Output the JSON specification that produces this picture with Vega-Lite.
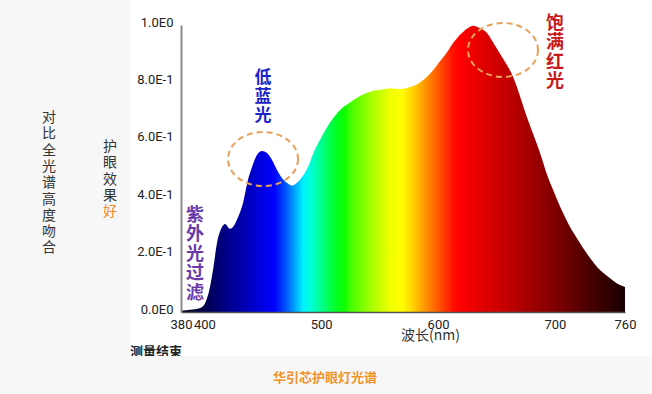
{
  "$schema": "https://vega.github.io/schema/vega-lite/v6.json",
  "width": 444,
  "height": 287,
  "autosize": {"type": "none"},
  "padding": {"left": 181, "top": 25, "right": 27, "bottom": 82},
  "background": "#f7f7f7",
  "config": {"view": {"stroke": null}, "font": "Noto Sans CJK SC"},
  "datasets": {
    "spectrum": [
      {"nm": 380, "v": 0.004}, {"nm": 384, "v": 0.006}, {"nm": 388, "v": 0.008}, {"nm": 392, "v": 0.01},
      {"nm": 396.3, "v": 0.014}, {"nm": 400.5, "v": 0.03}, {"nm": 404.8, "v": 0.087}, {"nm": 407.4, "v": 0.146},
      {"nm": 410.8, "v": 0.24}, {"nm": 415.1, "v": 0.296}, {"nm": 417.7, "v": 0.307}, {"nm": 421.9, "v": 0.29},
      {"nm": 424.5, "v": 0.296}, {"nm": 428.8, "v": 0.33}, {"nm": 433.1, "v": 0.38}, {"nm": 437.3, "v": 0.46},
      {"nm": 440.8, "v": 0.505}, {"nm": 445.0, "v": 0.547}, {"nm": 449.3, "v": 0.561}, {"nm": 453.6, "v": 0.554},
      {"nm": 457.9, "v": 0.53}, {"nm": 462.2, "v": 0.495}, {"nm": 466.4, "v": 0.467}, {"nm": 470.7, "v": 0.45},
      {"nm": 475.0, "v": 0.44}, {"nm": 479.3, "v": 0.45}, {"nm": 483.6, "v": 0.47}, {"nm": 488.7, "v": 0.505},
      {"nm": 494, "v": 0.56}, {"nm": 499.0, "v": 0.6}, {"nm": 507.5, "v": 0.66}, {"nm": 516.1, "v": 0.704},
      {"nm": 524.6, "v": 0.73}, {"nm": 533.2, "v": 0.753}, {"nm": 541.8, "v": 0.767}, {"nm": 550.3, "v": 0.774},
      {"nm": 558.9, "v": 0.78}, {"nm": 567.4, "v": 0.777}, {"nm": 576.0, "v": 0.784}, {"nm": 584.6, "v": 0.8},
      {"nm": 593.1, "v": 0.83}, {"nm": 599.1, "v": 0.86}, {"nm": 602.5, "v": 0.878}, {"nm": 607.7, "v": 0.905},
      {"nm": 612.8, "v": 0.937}, {"nm": 621.4, "v": 0.976}, {"nm": 626, "v": 0.99}, {"nm": 630, "v": 0.997},
      {"nm": 635, "v": 0.99}, {"nm": 641.9, "v": 0.972}, {"nm": 647, "v": 0.94}, {"nm": 653, "v": 0.9},
      {"nm": 664.2, "v": 0.819}, {"nm": 676.1, "v": 0.679}, {"nm": 687.3, "v": 0.554}, {"nm": 694, "v": 0.47},
      {"nm": 698, "v": 0.43}, {"nm": 702, "v": 0.39}, {"nm": 707.0, "v": 0.345}, {"nm": 713.0, "v": 0.296},
      {"nm": 718.7, "v": 0.258}, {"nm": 724.1, "v": 0.223}, {"nm": 730.1, "v": 0.188}, {"nm": 738.6, "v": 0.146},
      {"nm": 747.2, "v": 0.118}, {"nm": 755.7, "v": 0.094}, {"nm": 760, "v": 0.087}
    ],
    "panel": [{"x1": 336.3, "x2": 820, "y1": -0.1533, "y2": 1.3}],
    "strip": [{"x1": 200, "x2": 900, "y1": -0.1533, "y2": -0.6}],
    "circles": [{"nm": 450.2, "v": 0.533}, {"nm": 655.6, "v": 0.913}]
  },
  "layer": [
    {
      "data": {"name": "panel"},
      "mark": {"type": "rect", "fill": "#ffffff", "stroke": null},
      "encoding": {
        "x": {
          "field": "x1", "type": "quantitative",
          "scale": {"domain": [380, 760], "nice": false, "zero": false},
          "axis": {
            "values": [380, 400, 500, 600, 700, 760], "labelOverlap": false, "labelFlush": false, "labelBound": false,
            "ticks": false, "tickSize": 0, "grid": false, "domainColor": "#555555", "domainWidth": 1.5,
            "labelFont": "Roboto", "labelFontSize": 13, "labelColor": "#222222", "labelPadding": 6,
            "title": "波长(nm)", "titleFont": "Noto Sans CJK SC", "titleFontSize": 14, "titleFontWeight": "normal",
            "titleColor": "#333333", "titleX": 249, "titleY": 23, "titleBaseline": "middle", "titleAlign": "center",
            "zindex": 1
          }
        },
        "x2": {"field": "x2"},
        "y": {
          "field": "y1", "type": "quantitative",
          "scale": {"domain": [0, 1], "nice": false, "zero": false},
          "axis": {
            "values": [0, 0.2, 0.4, 0.6, 0.8, 1],
            "labelExpr": "datum.value == 0 ? '0.0E0' : datum.value >= 1 ? '1.0E0' : format(datum.value * 10, '.1f') + 'E-1'",
            "ticks": false, "tickSize": 0, "grid": false, "domainColor": "#8c8c8c", "domainWidth": 2,
            "labelFont": "Roboto", "labelFontSize": 13, "labelColor": "#222222", "labelPadding": 8,
            "labelOffset": -3, "labelFlush": false, "title": null, "zindex": 1
          }
        },
        "y2": {"field": "y2"}
      }
    },
    {
      "data": {"values": [{"nm": 336.3, "v": -0.118, "label": "测量结束"}]},
      "mark": {"type": "text", "align": "left", "baseline": "top", "fontSize": 13, "fontWeight": "bold", "color": "#222222", "font": "Noto Sans CJK SC"},
      "encoding": {
        "x": {"field": "nm", "type": "quantitative", "axis": {"title": "波长(nm)"}},
        "y": {"field": "v", "type": "quantitative", "axis": {"title": null}},
        "text": {"field": "label"}
      }
    },
    {
      "data": {"name": "strip"},
      "mark": {"type": "rect", "fill": "#f7f7f7", "stroke": null},
      "encoding": {
        "x": {"field": "x1", "type": "quantitative", "axis": {"title": "波长(nm)"}},
        "x2": {"field": "x2"},
        "y": {"field": "y1", "type": "quantitative", "axis": {"title": null}},
        "y2": {"field": "y2"}
      }
    },
    {
      "data": {"name": "spectrum"},
      "mark": {
        "type": "area",
        "interpolate": "monotone",
        "fill": {
          "gradient": "linear", "x1": 0, "y1": 0, "x2": 1, "y2": 0,
          "stops": [
            {"offset": 0.0, "color": "#000020"},
            {"offset": 0.05, "color": "#000048"},
            {"offset": 0.1, "color": "#000085"},
            {"offset": 0.14, "color": "#0000b0"},
            {"offset": 0.18, "color": "#0000e0"},
            {"offset": 0.21, "color": "#0000ff"},
            {"offset": 0.235, "color": "#0050ff"},
            {"offset": 0.255, "color": "#00a0ff"},
            {"offset": 0.275, "color": "#00f0ff"},
            {"offset": 0.29, "color": "#00ffe0"},
            {"offset": 0.32, "color": "#00ff80"},
            {"offset": 0.35, "color": "#00ff20"},
            {"offset": 0.37, "color": "#10ff00"},
            {"offset": 0.381, "color": "#40ff00"},
            {"offset": 0.426, "color": "#a0ff00"},
            {"offset": 0.448, "color": "#c8ff00"},
            {"offset": 0.471, "color": "#f0ff00"},
            {"offset": 0.498, "color": "#ffff00"},
            {"offset": 0.523, "color": "#ffd000"},
            {"offset": 0.545, "color": "#ffa000"},
            {"offset": 0.568, "color": "#ff7000"},
            {"offset": 0.59, "color": "#ff4000"},
            {"offset": 0.613, "color": "#ff1000"},
            {"offset": 0.628, "color": "#ff0000"},
            {"offset": 0.667, "color": "#e80000"},
            {"offset": 0.725, "color": "#c80000"},
            {"offset": 0.764, "color": "#b00000"},
            {"offset": 0.815, "color": "#900000"},
            {"offset": 0.854, "color": "#780000"},
            {"offset": 0.921, "color": "#480000"},
            {"offset": 0.989, "color": "#200000"},
            {"offset": 1.0, "color": "#1a0000"}
          ]
        }
      },
      "encoding": {
        "x": {"field": "nm", "type": "quantitative", "axis": {"title": "波长(nm)"}},
        "y": {"field": "v", "type": "quantitative", "axis": {"title": null}}
      }
    },
    {
      "data": {"name": "circles"},
      "mark": {
        "type": "point",
        "shape": "M1,0C1,0.426,0.552,0.771,0,0.771C-0.552,0.771,-1,0.426,-1,0C-1,-0.426,-0.552,-0.771,0,-0.771C0.552,-0.771,1,-0.426,1,0Z",
        "size": 4900, "filled": false, "stroke": "#e8a05a", "strokeWidth": 2, "strokeDash": [6, 4], "opacity": 1
      },
      "encoding": {
        "x": {"field": "nm", "type": "quantitative", "axis": {"title": "波长(nm)"}},
        "y": {"field": "v", "type": "quantitative", "axis": {"title": null}}
      }
    },
    {
      "data": {"values": [{"nm": 450.2, "v": 0.843, "label": "低\n蓝\n光"}]},
      "mark": {"type": "text", "align": "center", "baseline": "top", "fontSize": 17, "lineHeight": 19, "lineBreak": "\n", "fontWeight": "bold", "color": "#1a22c8", "font": "Noto Sans CJK SC"},
      "encoding": {
        "x": {"field": "nm", "type": "quantitative", "axis": {"title": "波长(nm)"}},
        "y": {"field": "v", "type": "quantitative", "axis": {"title": null}},
        "text": {"field": "label"}
      }
    },
    {
      "data": {"values": [{"nm": 700, "v": 1.035, "label": "饱\n满\n红\n光"}]},
      "mark": {"type": "text", "align": "center", "baseline": "top", "fontSize": 18, "lineHeight": 19.5, "lineBreak": "\n", "fontWeight": "bold", "color": "#c81a1a", "font": "Noto Sans CJK SC"},
      "encoding": {
        "x": {"field": "nm", "type": "quantitative", "axis": {"title": "波长(nm)"}},
        "y": {"field": "v", "type": "quantitative", "axis": {"title": null}},
        "text": {"field": "label"}
      }
    },
    {
      "data": {"values": [{"nm": 392, "v": 0.366, "label": "紫\n外\n光\n过\n滤"}]},
      "mark": {"type": "text", "align": "center", "baseline": "top", "fontSize": 18, "lineHeight": 19.5, "lineBreak": "\n", "fontWeight": "bold", "color": "#6a3aa8", "font": "Noto Sans CJK SC"},
      "encoding": {
        "x": {"field": "nm", "type": "quantitative", "axis": {"title": "波长(nm)"}},
        "y": {"field": "v", "type": "quantitative", "axis": {"title": null}},
        "text": {"field": "label"}
      }
    },
    {
      "data": {"values": [{"nm": 267, "v": 0.7, "label": "对\n比\n全\n光\n谱\n高\n度\n吻\n合"}, {"nm": 319.2, "v": 0.599, "label": "护\n眼\n效\n果"}]},
      "mark": {"type": "text", "align": "center", "baseline": "top", "fontSize": 14, "lineHeight": 16.3, "lineBreak": "\n", "color": "#333333", "font": "Noto Sans CJK SC"},
      "encoding": {
        "x": {"field": "nm", "type": "quantitative", "axis": {"title": "波长(nm)"}},
        "y": {"field": "v", "type": "quantitative", "axis": {"title": null}},
        "text": {"field": "label"}
      }
    },
    {
      "data": {"values": [{"nm": 319.2, "v": 0.372, "label": "好"}]},
      "mark": {"type": "text", "align": "center", "baseline": "top", "fontSize": 14, "color": "#f08a24", "font": "Noto Sans CJK SC"},
      "encoding": {
        "x": {"field": "nm", "type": "quantitative", "axis": {"title": "波长(nm)"}},
        "y": {"field": "v", "type": "quantitative", "axis": {"title": null}},
        "text": {"field": "label"}
      }
    },
    {
      "data": {"values": [{"nm": 503.2, "v": -0.23, "label": "华引芯护眼灯光谱"}]},
      "mark": {"type": "text", "align": "center", "baseline": "middle", "fontSize": 13, "fontWeight": "bold", "color": "#f0932b", "font": "Noto Sans CJK SC"},
      "encoding": {
        "x": {"field": "nm", "type": "quantitative", "axis": {"title": "波长(nm)"}},
        "y": {"field": "v", "type": "quantitative", "axis": {"title": null}},
        "text": {"field": "label"}
      }
    }
  ]
}
